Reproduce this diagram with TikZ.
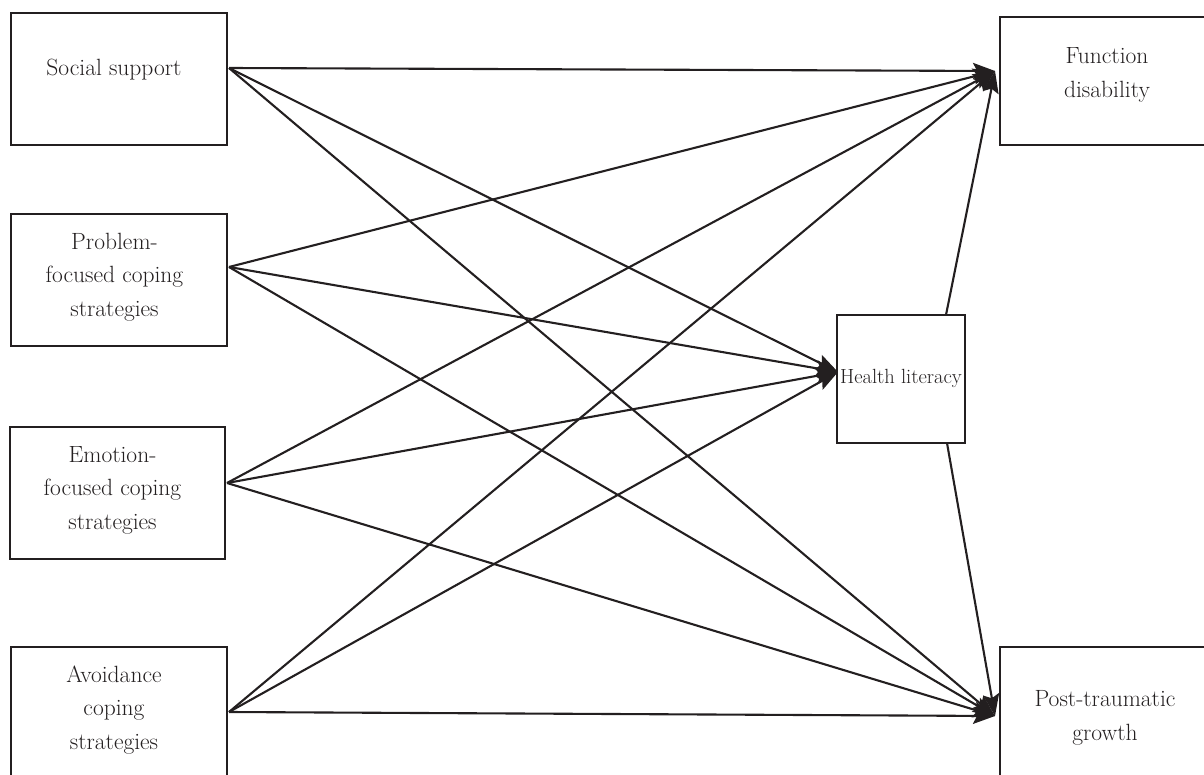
\documentclass[tikz,border=0pt]{standalone}
\usetikzlibrary{arrows.meta}
\definecolor{ink}{HTML}{231F20}
\begin{document}
\begin{tikzpicture}[x=1pt,y=-1pt,
  box/.style={draw=ink,line width=2pt,rectangle,inner sep=0pt},
  lbl/.style={text=ink,align=center,inner sep=0pt,font=\fontsize{23.5}{33.5}\selectfont},
  conn/.style={draw=ink,line width=2.1pt,-{Stealth[length=22pt,width=16pt,inset=4pt]}}]
\useasboundingbox (0,0) rectangle (1204,775);
\clip (0,0) rectangle (1204,775);
% boxes
\node[box,minimum width=216pt,minimum height=132pt] (ss) at (119,79) {};
\node[box,minimum width=216pt,minimum height=132pt] (pf) at (119,280) {};
\node[box,minimum width=215pt,minimum height=132pt] (ef) at (117.5,493) {};
\node[box,minimum width=216pt,minimum height=160pt] (av) at (119,727) {};
\node[box,minimum width=230pt,minimum height=128pt] (fd) at (1115,81) {};
\node[box,minimum width=128pt,minimum height=128pt] (hl) at (901,379) {};
\node[box,minimum width=230pt,minimum height=160pt] (pt) at (1115,727) {};
% labels
\node[lbl] (ssl) at (114,70) {Social support};
\node[lbl] (pfl) at (114.5,277) {Problem-\\focused coping\\strategies};
\node[lbl] (efl) at (112.5,490) {Emotion-\\focused coping\\strategies};
\node[lbl] (avl) at (114,710) {Avoidance\\coping\\strategies};
\node[lbl] (fdl) at (1107,75) {Function\\disability};
\node[lbl,font=\fontsize{20.5}{30}\selectfont] (hll) at (901,378) {Health literacy};
\node[lbl] (ptl) at (1105,718) {Post-traumatic\\growth};
% connector points
\coordinate (ssO) at (229,68);
\coordinate (pfO) at (229,267);
\coordinate (efO) at (227,483);
\coordinate (avO) at (229,712);
\coordinate (fdI) at (995,71);
\coordinate (hlI) at (838,372);
\coordinate (ptI) at (995,716);
\coordinate (hlT) at (946,315);
\coordinate (hlB) at (947,443);
% connectors
\foreach \s in {ssO,pfO,efO,avO}{
  \draw[conn] (\s) -- (fdI);
  \draw[conn] (\s) -- (hlI);
  \draw[conn] (\s) -- (ptI);
}
\draw[conn] (hlT) -- (fdI);
\draw[conn] (hlB) -- (ptI);
\end{tikzpicture}
\end{document}
